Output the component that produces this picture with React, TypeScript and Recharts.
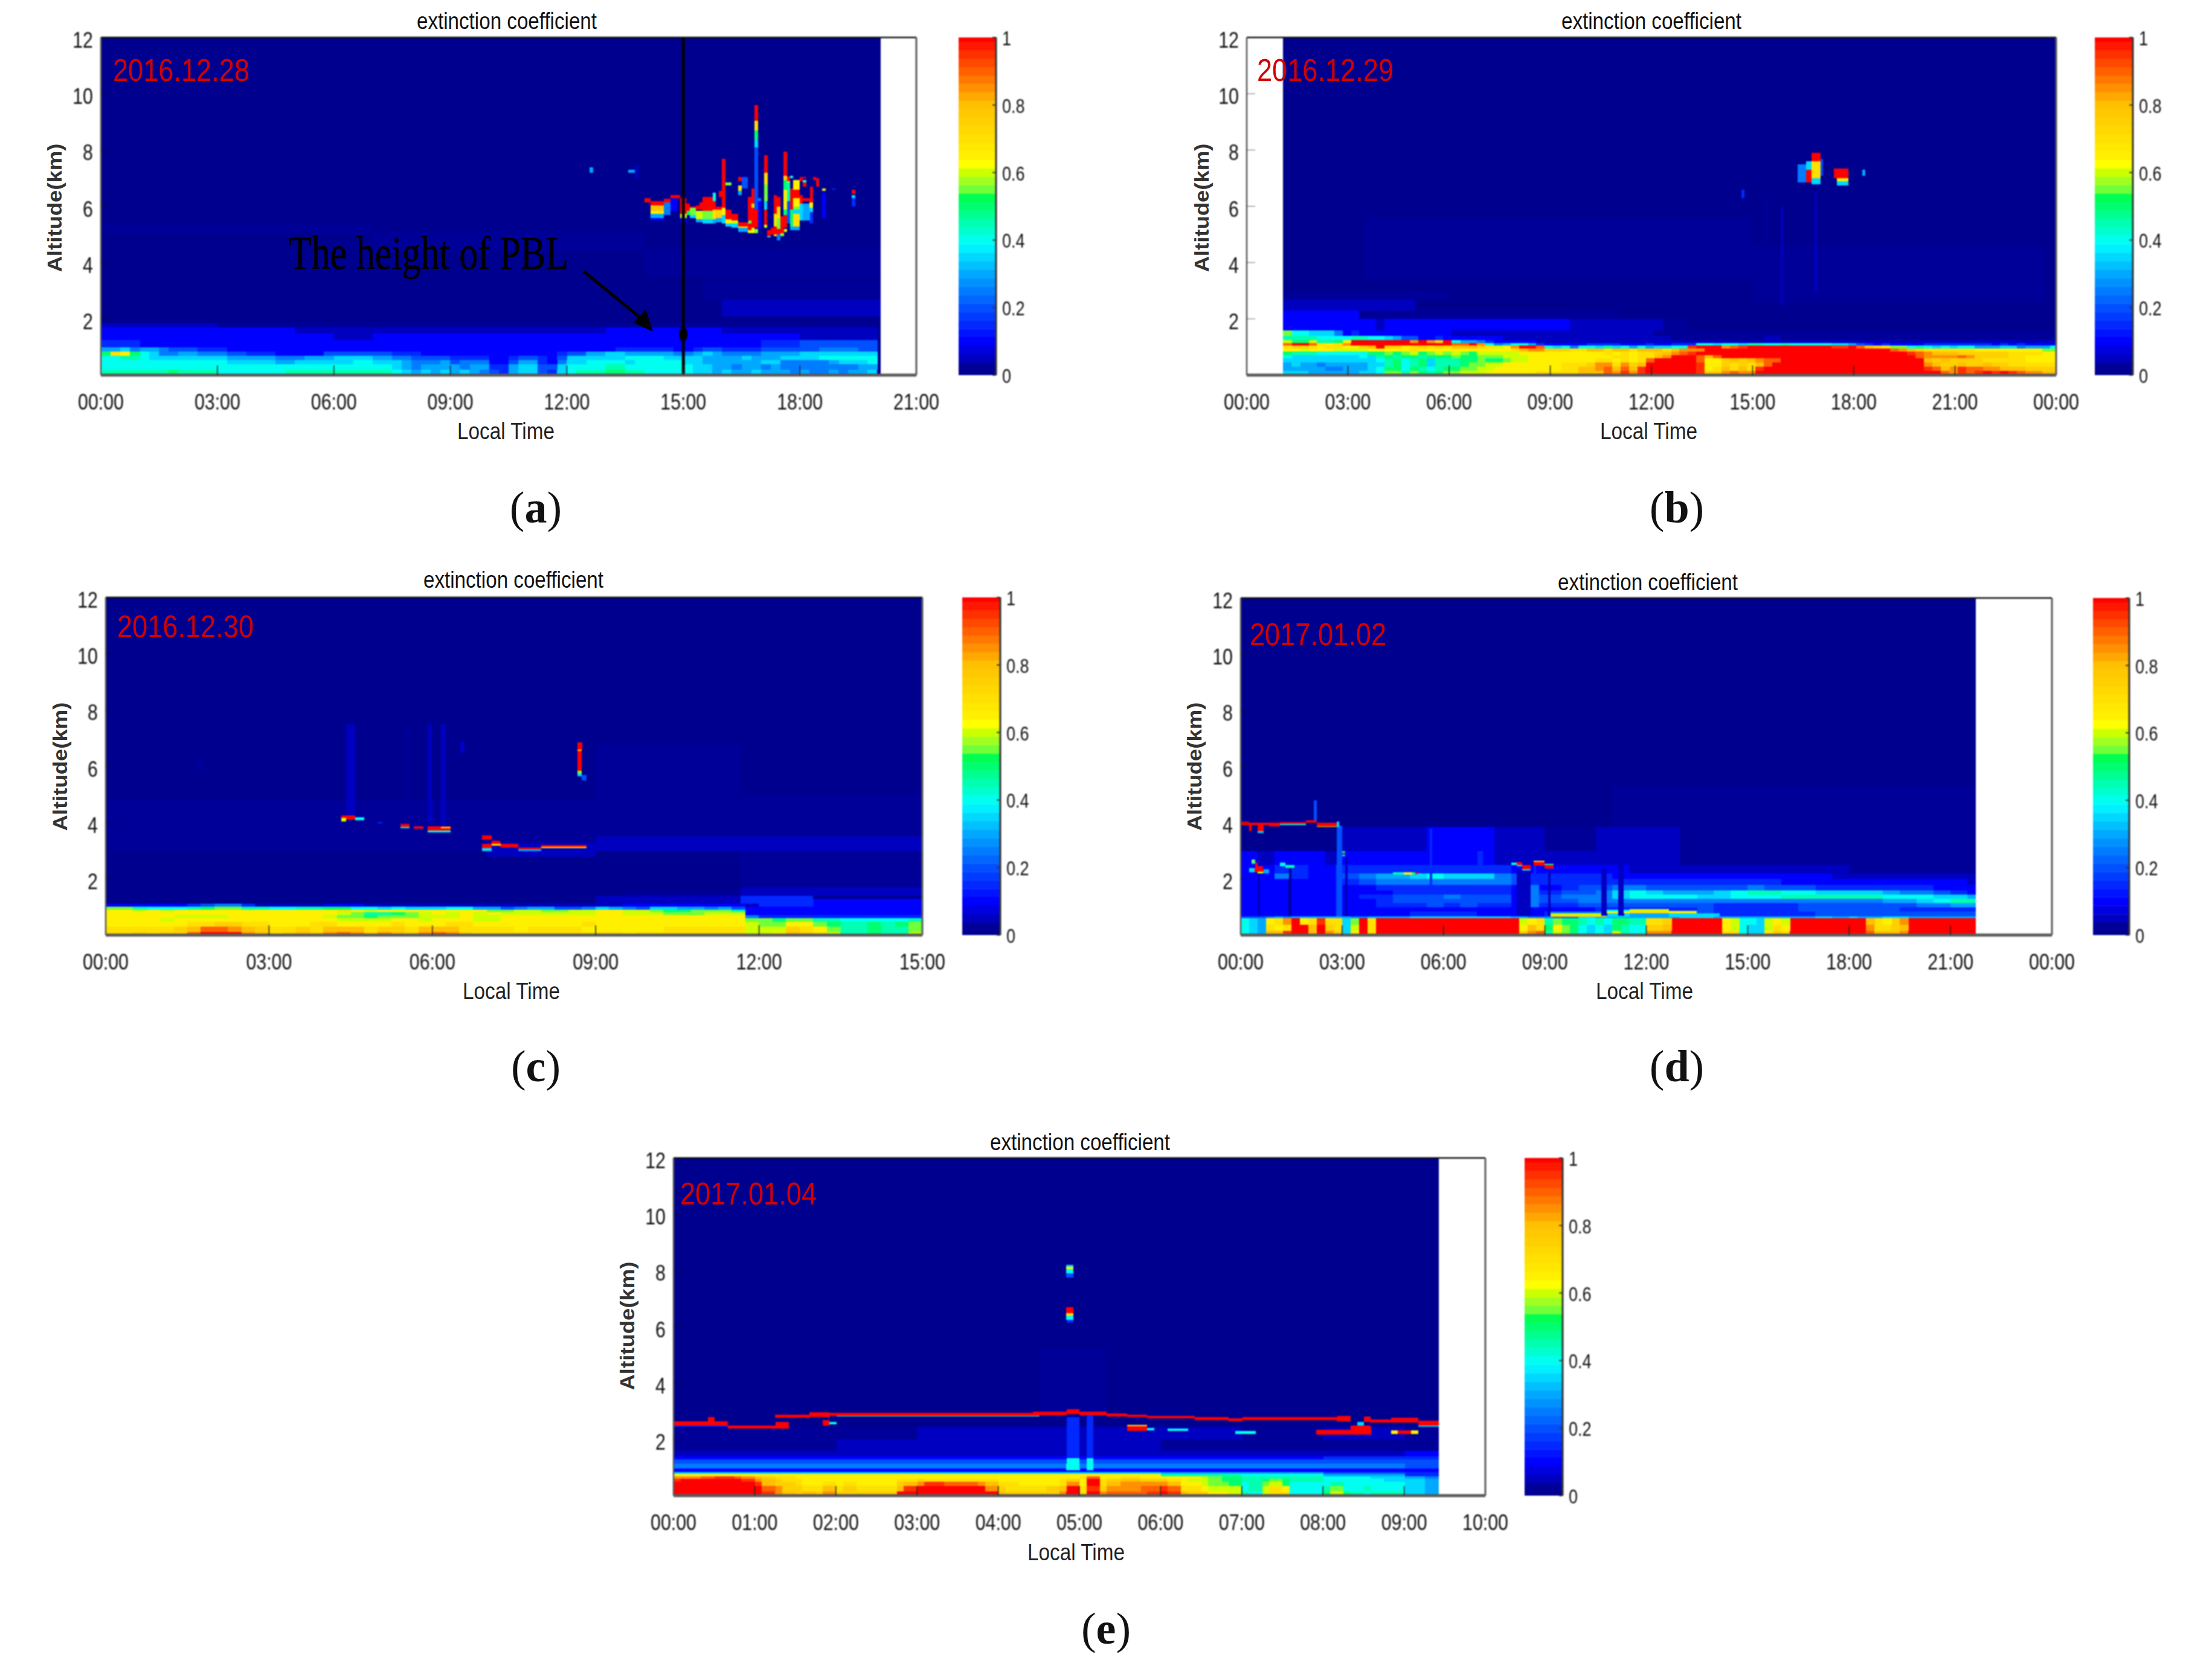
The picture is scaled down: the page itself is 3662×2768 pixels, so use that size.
import { BarChart, Bar, XAxis, YAxis, ReferenceLine, ReferenceDot } from "recharts";

// colour table, index = value * 40 (matches the colorbar)
const palette = [
  "#00008f", "#000099", "#0000c0", "#0000e0", "#0000ff", "#0014ff", "#0028ff", "#003cff", "#0050ff",
  "#0066ff", "#007cff", "#0092ff", "#00a8ff", "#00c0ff", "#00d8ff", "#00f0ff", "#00fff0", "#00ffd0",
  "#00ffb0", "#00ff90", "#00ff70", "#00ff50", "#70ff38", "#a0ff20", "#ccff00", "#ffff00", "#fff000",
  "#ffe800", "#ffe000", "#ffd800", "#ffd000", "#ffc800", "#ffc000", "#ffa800", "#ff9000", "#ff7800",
  "#ff6000", "#ff4800", "#ff3000", "#ff1800", "#ff0000",
];

// '0' background, '.' 0.025, a..t = 0.05..1.00
const levelOf = (ch: string) => {
  if (ch === "0") return 0;
  if (ch === ".") return 1;
  return (ch.charCodeAt(0) - 96) * 2;
};

const altitudeTicks = [2, 4, 6, 8, 10, 12];
const colorbarTicks = [0, 0.2, 0.4, 0.6, 0.8, 1];

type Row = [number, number, number, string];
type Patch = [number, number, number, number, string];

// ---------- (a) 2016.12.28 ----------
const ticksA = [0, 3, 6, 9, 12, 15, 18, 21];
const rowsA: Row[] = [
  [0, 0.2, 0.25, "iiii iiij iiii hhhh hhhi iiii iiii iihg fgfg fgfe dcfg gdcg hiii jjii hhhh hggf gffg fffe feef effg"],
  [0.2, 0.4, 0.25, "hhhh hhhh hhhh hhhh hhhh hhhh hhhh hhgf efff feff ccfg gddg hhhh iihh hhhh hggf feff efee eeee eeff"],
  [0.4, 0.55, 0.25, "hhhh hhhh hhhh hggg ggff gggg gghh gggf eeef deee bbdf fcbe gghh hhgh hhhh ggff ffff ggee eeef gggh"],
  [0.55, 0.7, 0.25, "hhii hggg gggg gfff ffee efff gggg ffee dddd cccc bbcd dcbd gggg gghh hhgg ggff ffgf ffgg gghh hhhh"],
  [0.7, 0.85, 0.25, "jnmj hgee ffee eddc ccbb bbbd dddd ddcc cbbb bbbb bbbb bbbc ddff ggff fffe efgf eeee ffff gggg gggg"],
  [0.85, 1.0, 0.25, "ffge ffed ddcc cbbb bbbb bbbb bbbb bbbb bbbb bbbb bbbb bbbb bbbb bccc cccb bcdd cccc dddd ddee eedd"],
  [1.0, 1.25, 1, "cbbbbbbbbbbbbbbbbcdd"],
  [1.25, 1.5, 1, "bbbbbbabbbbbbbbbbbaa"],
  [1.5, 1.7, 1, "bbbbbaaaaaaaabbbaaaa"],
  [1.7, 1.85, 1, "aaa................."],
];
const cloudsA: Patch[] = [
  [16, 20.13, 2.1, 2.7, "a"], [15.5, 20.13, 2.7, 3.4, "."], [14, 20.13, 3.5, 4.5, "."], [0, 7, 5.05, 5.35, "."], [7, 14, 4.4, 5.1, "."],
  [12.55, 12.65, 7.2, 7.4, "f"], [13.58, 13.72, 7.2, 7.3, "f"], [13.72, 13.8, 7.0, 7.45, "a"],
  [14.0, 14.15, 6.15, 6.3, "t"], [14.15, 14.47, 6.05, 6.2, "t"], [14.15, 14.47, 5.85, 6.05, "p"], [14.15, 14.47, 5.75, 5.85, "m"],
  [14.15, 14.47, 5.6, 5.75, "f"], [14.15, 14.47, 5.5, 5.6, "b"], [14.47, 14.63, 6.15, 6.27, "t"], [14.47, 14.63, 5.7, 6.15, "e"],
  [14.63, 14.81, 6.3, 6.4, "t"], [14.63, 14.81, 5.85, 6.3, "b"], [14.8, 14.89, 6.3, 6.4, "t"],
  [14.89, 15.1, 5.75, 6.3, "t"], [14.89, 15.1, 5.6, 5.75, "l"], [14.9, 15.1, 5.45, 5.6, "b"],
  [15.07, 15.14, 5.85, 6.1, "t"], [15.07, 15.14, 5.7, 5.85, "j"], [15.14, 15.3, 5.95, 6.0, "t"], [15.14, 15.3, 5.7, 5.95, "k"], [15.14, 15.3, 5.6, 5.7, "g"],
  [15.3, 15.48, 5.9, 6.05, "t"], [15.38, 15.48, 6.05, 6.15, "t"], [15.3, 15.48, 5.55, 5.85, "l"], [15.3, 15.48, 5.45, 5.55, "f"],
  [15.48, 15.71, 5.85, 6.35, "t"], [15.48, 15.71, 5.55, 5.85, "k"], [15.48, 15.71, 5.4, 5.55, "g"],
  [15.71, 15.82, 5.9, 6.2, "t"], [15.71, 15.82, 6.2, 6.5, "h"], [15.71, 15.82, 5.55, 5.9, "n"], [15.71, 15.82, 5.4, 5.55, "f"],
  [15.82, 15.97, 5.6, 5.9, "o"], [15.82, 15.97, 5.9, 6.0, "t"], [15.88, 15.97, 6.35, 6.55, "t"], [15.82, 15.97, 5.45, 5.6, "f"],
  [16.04, 16.12, 5.95, 7.7, "t"], [16.04, 16.12, 5.7, 5.95, "m"], [16.04, 16.12, 5.4, 5.7, "g"],
  [16.12, 16.22, 5.55, 5.9, "t"], [16.12, 16.22, 5.4, 5.55, "m"], [16.12, 16.22, 5.3, 5.4, "g"], [16.12, 16.22, 6.75, 6.85, "k"],
  [16.22, 16.38, 5.5, 5.75, "t"], [16.22, 16.38, 5.4, 5.5, "l"], [16.22, 16.38, 5.25, 5.4, "g"],
  [16.38, 16.45, 5.4, 5.55, "t"], [16.38, 16.45, 5.3, 5.4, "m"], [16.38, 16.45, 5.15, 5.3, "g"],
  [16.45, 16.63, 5.3, 5.45, "t"], [16.45, 16.63, 5.25, 5.3, "m"], [16.45, 16.63, 5.1, 5.25, "f"],
  [16.45, 16.53, 6.9, 7.05, "t"], [16.45, 16.53, 6.55, 6.75, "n"], [16.45, 16.53, 6.4, 6.55, "f"], [16.53, 16.63, 6.65, 7.05, "d"],
  [16.63, 16.7, 5.1, 5.3, "r"], [16.63, 16.7, 4.9, 5.1, "f"],
  [16.7, 16.79, 5.15, 6.35, "t"], [16.7, 16.79, 5.05, 5.15, "l"], [16.7, 16.79, 5.4, 5.5, "k"],
  [16.79, 16.87, 5.25, 6.65, "t"], [16.79, 16.87, 5.95, 6.1, "o"], [16.79, 16.87, 5.05, 5.25, "m"],
  [16.87, 16.94, 9.05, 9.6, "t"], [16.87, 16.94, 8.7, 9.05, "n"], [16.87, 16.94, 8.4, 8.7, "j"], [16.87, 16.94, 8.1, 8.4, "g"],
  [16.87, 16.94, 5.9, 8.1, "d"], [16.87, 16.94, 5.25, 5.9, "t"], [16.87, 16.94, 5.05, 5.2, "k"],
  [16.94, 17.03, 5.2, 6.2, "b"], [16.94, 17.03, 6.2, 6.3, "e"], [17.05, 17.12, 5.5, 5.9, "j"], [17.05, 17.12, 5.1, 5.5, "b"],
  [17.12, 17.2, 7.2, 7.83, "t"], [17.12, 17.2, 6.8, 7.2, "n"], [17.12, 17.2, 6.2, 6.8, "k"], [17.12, 17.2, 5.9, 6.2, "g"],
  [17.12, 17.2, 5.35, 5.9, "t"], [17.12, 17.2, 5.25, 5.35, "l"], [17.2, 17.28, 4.95, 5.17, "t"], [17.2, 17.28, 4.9, 4.95, "g"],
  [17.28, 17.35, 5.0, 5.25, "t"], [17.35, 17.44, 5.75, 6.4, "t"], [17.35, 17.44, 5.3, 5.75, "n"], [17.35, 17.44, 5.0, 5.3, "t"], [17.35, 17.44, 4.95, 5.0, "n"],
  [17.44, 17.53, 6.0, 6.35, "t"], [17.44, 17.53, 5.6, 6.0, "n"], [17.44, 17.53, 5.2, 5.6, "k"], [17.44, 17.53, 5.0, 5.2, "t"], [17.44, 17.53, 4.8, 5.0, "e"],
  [17.54, 17.61, 5.05, 5.65, "t"], [17.54, 17.61, 4.95, 5.05, "k"],
  [17.61, 17.69, 7.1, 7.95, "t"], [17.61, 17.69, 6.95, 7.1, "o"], [17.61, 17.69, 6.6, 6.95, "j"], [17.61, 17.69, 5.9, 6.6, "m"],
  [17.61, 17.69, 5.7, 5.9, "j"], [17.61, 17.69, 5.25, 5.7, "t"], [17.61, 17.69, 5.1, 5.2, "l"],
  [17.69, 17.79, 6.9, 7.08, "t"], [17.69, 17.79, 6.85, 6.9, "m"], [17.69, 17.79, 6.2, 6.85, "i"], [17.69, 17.79, 5.4, 6.2, "d"],
  [17.79, 17.87, 7.0, 7.1, "h"], [17.79, 17.87, 5.9, 6.65, "t"], [17.79, 17.87, 5.3, 5.9, "j"], [17.79, 17.87, 5.15, 5.3, "f"],
  [17.87, 17.97, 6.6, 6.95, "m"], [17.87, 17.97, 6.3, 6.6, "t"], [17.87, 17.97, 6.0, 6.3, "m"], [17.87, 17.97, 5.9, 6.0, "k"], [17.87, 17.97, 5.75, 5.9, "g"], [17.87, 17.97, 5.3, 5.75, "n"], [17.87, 17.97, 5.15, 5.3, "f"],
  [17.97, 18.05, 6.9, 7.05, "t"], [17.97, 18.05, 6.1, 6.4, "t"], [17.97, 18.05, 5.5, 6.1, "g"], [18.05, 18.23, 6.2, 6.3, "t"], [18.05, 18.23, 5.5, 6.1, "f"],
  [18.08, 18.2, 7.0, 7.05, "t"], [18.08, 18.2, 6.85, 6.95, "h"], [18.08, 18.2, 6.7, 6.85, "t"],
  [18.23, 18.35, 6.15, 6.7, "t"], [18.23, 18.35, 5.95, 6.15, "m"], [18.23, 18.35, 5.8, 5.95, "g"], [18.23, 18.35, 5.4, 5.8, "c"],
  [18.35, 18.43, 6.95, 7.05, "t"], [18.43, 18.51, 6.7, 7.0, "t"], [18.6, 18.69, 6.55, 6.65, "n"], [18.6, 18.69, 5.6, 6.5, "b"],
  [18.85, 18.95, 6.6, 6.65, "c"], [19.33, 19.43, 6.45, 6.6, "t"], [19.33, 19.43, 6.3, 6.4, "g"], [19.33, 19.43, 6.0, 6.3, "c"],
];

// ---------- (b) 2016.12.29 ----------
const ticksB = [0, 3, 6, 9, 12, 15, 18, 21, 24];
const rowsB: Row[] = [
  [0, 0.15, 0.25, "gggf ffff fggh kkik jijk klll mmmm mmnn nnnp pprq sqst tttt tsoo qrqq tttt tttt tttt tttt tttt ttrq srst stsr qqpp"],
  [0.15, 0.3, 0.25, "ffff feef ffgh jjhj ihij jkkl lmmm mmmm mnnp pqrp rpst tttt tsmn pnpn sttt tttt tttt tttt tttt srpq srrq qppp oooo"],
  [0.3, 0.45, 0.25, "fgff efff ffgg ijhi jgii ijkk llmm mmmm mnnn oqqn qopt tttt tsmm onon prtt tttt tttt tttt tttt qpoo poop oonn nnnn"],
  [0.45, 0.6, 0.25, "gggg gggg gggh ijhi jgii ijjk jjkl lmmm mmmm mnnm nmnr tttt trmm opop qrrt tttt tttt tttt tttt popo ooon nnnn mmmm"],
  [0.6, 0.72, 0.25, "hggg gggg ghgi jijj ijjj kjjk kkll lmmm mmmm mmmn nmnn pqtt trpr tttt tttt tttt tttt tttt tttr qqqq rqoo oonn mmmm"],
  [0.72, 0.85, 0.25, "jiii hhhh hhjj kjkl jklk lkjl llll mmmm mmmm mmnm nmnn opqr sttt tttt tttt tttt tttt tttt ttsr qppp oooo oonn nnmm"],
  [0.85, 0.95, 0.25, "mmlm mmll llmm mmmn mmmm mmmm mmmn pqqo oonn ppnp pnpp pnpq qqtt tttt tttt tttt tttt tttt rqpo nnnn nnmm mmmm mmkk"],
  [0.95, 1.05, 0.25, "noon mnnm mopt oomn onon pppo nlmq ttrh gheh hgig hfhf gghh sttt qrst tttt tttt tsst rpon kkhi hghg hhff fgge fffh"],
  [1.05, 1.15, 0.25, "rttr nmnq tttt tttt tttt rrtq hefh hfcb bbbb cccc bbbc bbcc chhg hhgi ihhi hhhh hggf dcbc bbbb cccc cccc bcbc bbbb"],
  [1.15, 1.25, 0.25, "ljjl iijm tttt tttq tqot hffe cbbb bbaa aaaa aaaa aaaa aaaa aaaa aaaa aaaa aaaa aaaa aaaa aaaa aaaa aaaa aaaa aaaa"],
  [1.25, 1.4, 0.25, "iiii hhhh iihh gfdd bbcb bbbb bbaa aaaa aaaa aaaa aaaa aa.. .... .... .aa. .... .... .... .... .... .... .... ...."],
  [1.4, 1.6, 0.25, "khhg ggeb cbbb bbbb bbbb aaaa aaaa aaaa aaaa aaaa aaaa .... .... .... .... .... .... .... .... .... .... .... ...."],
  [1.6, 2.0, 0.25, "bbbb bbbb bbba bbbb bbbb bbbb bbbb bbbb bbaa aaaa aaaa a..."],
];
const cloudsB: Patch[] = [
  [1, 3.3, 2.0, 2.3, "b"], [1, 5, 2.3, 2.7, "a"], [1, 6, 2.7, 3, "."], [3.5, 15, 3.4, 5.6, "."], [15, 23.7, 2.6, 4.6, "."], [3.3, 11, 2.0, 2.3, "."],
  [15.82, 15.92, 2.5, 6, "a"], [16.8, 16.95, 3, 6.5, "a"], [14.65, 14.72, 6.3, 6.6, "c"], [15.3, 15.4, 3.6, 6.3, "."],
  [16.35, 16.55, 6.85, 7.5, "e"], [16.55, 16.72, 6.85, 7.3, "t"], [16.55, 16.72, 7.3, 7.6, "g"], [16.72, 16.98, 7.0, 7.6, "n"], [16.72, 16.98, 7.6, 7.9, "t"], [16.72, 16.98, 6.8, 7.0, "g"], [16.98, 17.1, 7.1, 7.7, "d"],
  [17.42, 17.8, 7.0, 7.35, "t"], [17.5, 17.8, 6.9, 7.0, "m"], [17.5, 17.8, 6.75, 6.9, "g"], [18.22, 18.32, 7.1, 7.3, "f"],
];

// ---------- (c) 2016.12.30 ----------
const ticksC = [0, 3, 6, 9, 12, 15];
const rowsC: Row[] = [
  [0, 0.12, 0.25, "nnon oort ttqp nopo qrqo qpoq rqon nnnn nnnn nnmn nnnn nnnl lmpo nlii jiil"],
  [0.12, 0.3, 0.25, "nnnn nopr rqpo nnon pppn oonp ppnn nnmn nnnm mmmm mnnn nnnl llon mkii jiik"],
  [0.3, 0.48, 0.25, "mmmm mmnn oonn mmmn nmmm mnmm mnnm mmmm mmmn mmmm mmmm mmml kkmm kjii jijk"],
  [0.48, 0.62, 0.25, "mmmm lmmm mmmm mmmm mlll lmml mmml lmmm mmmm mmmm mmmm mmmk kjkk iihh hhhi"],
  [0.62, 0.72, 0.25, "mmmm mlll lmmm mmmm lkkj kkkl llml lmmm mmmm mmmm mmmm mmme cccc cccc cccc"],
  [0.72, 0.82, 0.25, "mmmm mmmm mmmm mmmm mlki ijkl mlml mlll llll mmll lkkk lllb bbbb bbbb bbbb"],
  [0.82, 0.92, 0.25, "mmlm lmmm mmmm mmmm mnml mmmm mmmm kkll kkll mmll kjjk kkib bbbb bbbb bbbb"],
  [0.92, 1.02, 0.25, "kkih hhij kkii hhii jjhh ghgg ghhf fdef fdde gfed ggff efdb bbbb bbbb bbbb"],
  [1.02, 1.12, 0.25, "bbbb bbcd eeca aaaa bbba aaaa aaaa aaaa aaaa aabb bbbb bbba cccc bbbb bbbb"],
];
const cloudsC: Patch[] = [
  [0, 9, 3, 4.8, "."], [9, 15, 3.5, 5, "."], [9, 11.7, 5, 6.8, "."], [9, 15, 3, 3.5, "a"], [7, 9, 2.8, 3.3, "a"],
  [9, 11.7, 1.12, 1.4, "a"], [9.5, 11.7, 1.4, 1.6, "."], [11.7, 13, 1.12, 1.4, "c"], [13, 15, 1.12, 1.3, "b"], [11.7, 15, 1.4, 1.7, "a"], [11.7, 15, 1.7, 3, "."],
  [4.45, 4.55, 4.2, 7.5, "a"], [5.48, 5.55, 3.9, 7.4, "."], [5.92, 6.02, 4, 7.5, "a"], [6.15, 6.25, 3.8, 7.5, "a"], [6.05, 6.12, 7.5, 8.9, "."], [6.47, 6.57, 6.5, 6.9, "a"], [1.65, 1.8, 5.8, 6.2, "."],
  [4.33, 4.45, 4.05, 4.18, "l"], [4.33, 4.45, 4.18, 4.25, "t"], [4.45, 4.58, 4.1, 4.25, "t"], [4.58, 4.78, 4.08, 4.2, "h"], [5.0, 5.08, 3.98, 4.03, "c"],
  [5.45, 5.58, 3.85, 3.95, "t"], [5.45, 5.58, 3.8, 3.85, "h"], [5.68, 5.83, 3.78, 3.88, "t"], [5.9, 6.35, 3.72, 3.87, "t"], [6.2, 6.35, 3.8, 3.85, "m"], [5.9, 6.35, 3.65, 3.72, "h"],
  [6.92, 7.08, 3.4, 3.55, "t"], [6.92, 7.08, 3.1, 3.25, "t"], [6.92, 7.08, 3.0, 3.1, "g"], [7.05, 7.23, 3.25, 3.35, "t"], [7.05, 7.23, 3.18, 3.25, "n"],
  [7.23, 7.62, 3.12, 3.25, "t"], [7.62, 7.97, 3.05, 3.12, "t"], [7.62, 7.97, 3.0, 3.05, "f"], [7.97, 8.87, 3.13, 3.2, "t"], [7.97, 8.87, 3.1, 3.15, "m"],
  [8.64, 8.76, 5.85, 6.85, "t"], [8.64, 8.76, 6.55, 6.6, "o"], [8.64, 8.76, 5.75, 5.85, "k"], [8.64, 8.76, 5.65, 5.75, "g"], [8.76, 8.85, 5.5, 5.7, "d"],
];

// ---------- (d) 2017.01.02 ----------
const ticksD = [0, 3, 6, 9, 12, 15, 18, 21, 24];
const rowsD: Row[] = [
  [0, 0.15, 0.25, "hgfp pstt ptqo gmtn tttt tttt tttt tttt toqr ilkj hghg lihh qqqt tttt tnnh ggmo nttt tttt ttrp ppqt tttt tttt"],
  [0.15, 0.38, 0.25, "hgfn mntt pton gltn tttt tttt tttt tttt tmpn jmkj hghg jihh oopt tttt tmlh ggln mttt tttt ttqn nopt tttt tttt"],
  [0.38, 0.62, 0.25, "hgfm nqtm nsnn gktn tttt tttt tttt tttt tlmn ikjj ihih jjii nnot tttt tmlh hglm lttt tttt ttpn moqt tttt tttt"],
  [0.62, 0.68, 0.25, "ddde feff ffff feef ffff gggg gggg gggg ffee eddd ggff ffff ffff gggg ffff ffff ffff ggff gfff gggf ffff ffff"],
  [0.68, 0.85, 0.5, "bb bb bb bb bb cc cc bb bb cc dd ee ee dd cc cc cc dd dd dd dd dd"],
  [0.85, 1.0, 0.5, "bb bb bb bb bb bb bb bb bb bb bc cc cc cd cc cc cd dd dd dc cc cc"],
  [1.0, 1.15, 0.5, "bb bb bb bb cc cd cd cc bc cc dd dd dd dd cc cc cd dd dd dd ee ff"],
  [1.15, 1.3, 0.5, "bb bb bb bb cd dd dd dd bd dd ee ee ee ee ee ee ee ee ee ff gh ii"],
  [1.3, 1.45, 0.5, "bb bb bb bc cd dd ed dd bd de ee gh hh hg gh hh ii ii ii hh hg gf"],
  [1.45, 1.6, 0.5, "bb bb bb bb bc cc cc cc bc cd de gh gf ff gh ii hh gg gg fe ed cb"],
  [1.6, 1.8, 0.5, "bb bb bb bb cc cc cc cc bb bc dd ee dd dd dd ed dd cc cc cc cb bb"],
  [1.8, 2.0, 0.5, "bb bb bb cd ee ee ee ee dc cc cc cc cc cc cc cc bb bb bb bb bb ba"],
  [2.0, 2.2, 0.5, "bb ec bb de ff gh gg ge dc cc cc bb bb bb bb bb bb ba aa aa aa aa"],
  [2.2, 2.5, 0.5, "bb cc bb cc cc cc cc cc bb bb bb ba aa aa aa aa aa aa .. .. .. .."],
  [2.5, 3, 0.5, "ba bb ba bb bb bb bb ba aa aa aa aa aa .. .. .. .. .. .. .. .. .."],
  [3, 3.85, 0.5, "__ __ __ aa aa ab bb ba aa .. .a aa aa .. .. .. .. .. .. .. .. .."],
];
const cloudsD: Patch[] = [
  [11, 21.77, 3.85, 5.3, "."],
  [9.2, 10.8, 0.66, 0.72, "o"], [9.2, 10.8, 0.72, 0.78, "l"], [9.2, 10.8, 0.78, 0.85, "e"], [10.8, 11.5, 0.65, 0.78, "g"], [10.8, 11.5, 0.78, 0.85, "m"], [10.8, 11.5, 0.85, 0.92, "h"],
  [11.5, 12.7, 0.65, 0.78, "f"], [11.5, 12.7, 0.78, 0.86, "n"], [11.5, 12.7, 0.86, 0.93, "l"], [12.7, 13.5, 0.66, 0.78, "g"], [12.7, 13.5, 0.78, 0.86, "m"], [13.5, 14.2, 0.68, 0.78, "g"],
  [1.43, 1.5, 0.68, 2.4, "."], [0.53, 0.6, 0.68, 2.2, "a"], [2.8, 3.0, 0.68, 3.9, "d"], [3.05, 3.15, 0.68, 2.8, "a"],
  [8.15, 8.55, 0.7, 2.3, "a"], [9.1, 9.2, 0.7, 2.3, "a"], [8.55, 8.8, 1.0, 1.8, "e"], [8.65, 8.75, 1.8, 2.5, "c"],
  [5.6, 5.7, 1.5, 3.8, "c"], [7.0, 7.2, 2.2, 3.0, "c"], [10.7, 10.8, 0.7, 2.4, "a"], [11.2, 11.3, 0.7, 3.0, "a"],
  [0, 0.23, 3.97, 4.05, "t"], [0.23, 0.35, 3.7, 3.95, "t"], [0, 0.8, 3.92, 4.0, "t"], [0.53, 0.63, 3.7, 3.95, "t"], [0.53, 0.63, 3.65, 3.7, "g"],
  [0.8, 1.2, 3.88, 4.0, "t"], [1.2, 1.88, 3.97, 4.03, "t"], [1.2, 1.88, 3.93, 3.97, "h"], [1.88, 2.24, 4.0, 4.1, "t"], [2.24, 2.8, 3.87, 4.0, "t"], [2.24, 2.8, 3.85, 3.87, "l"], [2.8, 2.88, 3.85, 4.05, "g"],
  [2.15, 2.22, 4.1, 4.8, "d"], [3.0, 3.08, 2.88, 2.92, "t"], [3.0, 3.08, 2.93, 3.0, "j"], [3.0, 3.08, 2.8, 2.88, "f"],
  [0.35, 0.45, 2.6, 2.7, "k"], [0.35, 0.45, 2.55, 2.6, "h"], [0.45, 0.53, 2.25, 2.6, "t"], [0.53, 0.65, 2.2, 2.47, "t"], [0.53, 0.65, 2.2, 2.26, "l"], [0.23, 0.4, 2.25, 2.4, "g"], [0.65, 0.8, 2.2, 2.35, "f"],
  [1.2, 1.3, 2.45, 2.6, "h"], [1.3, 1.37, 2.4, 2.55, "t"], [1.37, 1.6, 2.4, 2.5, "i"],
  [4.54, 4.82, 2.15, 2.25, "i"], [4.84, 5.05, 2.15, 2.25, "m"], [5.15, 5.25, 2.17, 2.25, "t"], [5.05, 5.15, 2.18, 2.24, "j"], [5.25, 5.35, 2.15, 2.2, "h"],
  [8.0, 8.13, 2.5, 2.6, "h"], [8.15, 8.35, 2.5, 2.62, "t"], [8.15, 8.3, 2.45, 2.5, "h"], [8.3, 8.6, 2.35, 2.5, "t"], [8.3, 8.6, 2.3, 2.35, "h"],
  [8.7, 9, 2.48, 2.62, "t"], [8.7, 9, 2.62, 2.66, "n"], [9, 9.22, 2.37, 2.5, "t"], [9, 9.22, 2.5, 2.54, "i"],
];

// ---------- (e) 2017.01.04 ----------
const ticksE = [0, 1, 2, 3, 4, 5, 6, 7, 8, 9, 10];
const rowsE: Row[] = [
  [0, 0.15, 0.125, "tttttttt tsqpopoq oooooott tttttttt poooooqt ntqrrrrs tspoomml ihlnnhhh jljihiii ggffeeff"],
  [0.15, 0.35, 0.125, "tttttttt trqoonnp nonnnnps tttttttq onnnnopt nsoqqqrr srnnmlll hilnmhhh ikhhihhh ggffeeff"],
  [0.35, 0.5, 0.125, "tttttttt spoonmmn mnmmmmop qssrrrqp nnmmmmnq mtnpqqqq qpmmlkkj hikljhhh hihhhhhh ggffffff"],
  [0.5, 0.62, 0.125, "stttttts qponnmmm mmmmmmnn onnnnnnn mmmmmmno mtnoppoo onmllkjj iijkjiii hhhhhhgg ggffffff"],
  [0.62, 0.7, 0.125, "qqqrssrq ponnmmmm mmmmmmmm mmmmmmmm mmmmmmmm nrmmnnmm mmmmlkjj iiiiiiii hhhhhggg ffeedddd"],
  [0.7, 0.78, 1, "mmmmmmihfc"],
  [0.78, 0.85, 1, "ggggggffdc"],
  [0.85, 0.97, 1, "bbbbbbbbbb"],
  [0.97, 1.15, 1, "eeeeeeeeed"],
  [1.15, 1.3, 1, "dddddddddd"],
  [1.3, 1.4, 1, "bbbbbbbbcc"],
  [1.4, 1.6, 1, "aaaaaaaaab"],
  [1.6, 2.0, 1, "..aaaa...."],
  [2.0, 2.45, 1, "...aaaa.a."],
];
const cloudsE: Patch[] = [
  [4.87, 5.03, 0.9, 1.35, "h"], [4.87, 5.03, 1.35, 2.8, "c"], [5.1, 5.2, 0.9, 1.35, "h"], [5.1, 5.2, 1.35, 3, "c"], [4.5, 5.3, 2.95, 5.2, "."],
  [0, 0.7, 2.5, 2.65, "t"], [0, 0.7, 2.45, 2.5, "c"], [0.43, 0.5, 2.65, 2.8, "t"], [0.7, 1.27, 2.4, 2.5, "t"], [1.27, 1.43, 2.4, 2.63, "t"], [1.27, 1.7, 2.78, 2.88, "t"], [1.7, 1.95, 2.8, 2.98, "t"],
  [1.95, 4.5, 2.85, 2.95, "t"], [2.0, 4.5, 2.82, 2.85, "h"], [4.4, 4.8, 2.87, 3.0, "t"], [4.8, 5.0, 2.9, 3.07, "t"], [5.0, 5.3, 2.87, 3.0, "t"], [5.3, 5.55, 2.82, 2.92, "t"], [5.55, 5.85, 2.8, 2.88, "t"],
  [5.85, 6.45, 2.75, 2.85, "t"], [6.45, 6.8, 2.7, 2.8, "t"], [6.8, 7.0, 2.65, 2.75, "t"], [7.0, 7.45, 2.7, 2.8, "t"], [7.45, 8.15, 2.7, 2.8, "t"], [8.2, 8.35, 2.65, 2.85, "t"],
  [8.47, 8.6, 2.63, 2.83, "t"], [8.6, 8.8, 2.6, 2.72, "t"], [8.8, 9.13, 2.6, 2.78, "t"], [9.13, 9.2, 2.63, 2.85, "t"], [9.2, 9.47, 2.5, 2.68, "t"], [9.2, 9.47, 2.45, 2.5, "g"],
  [1.87, 1.95, 2.5, 2.7, "t"], [1.95, 2.02, 2.55, 2.62, "h"], [5.62, 5.85, 2.3, 2.47, "t"], [5.62, 5.85, 2.47, 2.52, "m"], [5.85, 5.95, 2.33, 2.42, "h"],
  [6.1, 6.35, 2.3, 2.4, "h"], [6.22, 6.28, 2.3, 2.42, "t"], [6.95, 7.05, 2.2, 2.3, "h"], [7.1, 7.2, 2.2, 2.3, "h"],
  [7.9, 8.6, 2.17, 2.35, "t"], [8.3, 8.6, 2.35, 2.5, "t"], [8.45, 8.52, 2.5, 2.62, "g"], [8.8, 9.2, 2.2, 2.32, "m"], [8.9, 9.05, 2.2, 2.33, "t"],
  [4.87, 4.95, 8.15, 8.2, "g"], [4.87, 4.95, 8.05, 8.15, "m"], [4.87, 4.95, 7.9, 8.05, "h"], [4.87, 4.95, 7.75, 7.9, "d"],
  [4.87, 4.95, 6.5, 6.7, "t"], [4.87, 4.95, 6.4, 6.5, "n"], [4.87, 4.95, 6.25, 6.4, "h"], [4.87, 4.95, 6.15, 6.25, "c"],
];

const colsPerHour = 12;

// paint rows and patches onto a 10 m altitude raster and merge to stacks, one record per time column
function buildColumns(xMax: number, start: number, end: number, rows: Row[], clouds: Patch[]) {
  const parsed = rows.map(([a0, a1, step, s]) => ({ a0, a1, step, chars: s.replace(/ /g, "") }));
  const table: Record<string, number>[] = [];
  let maxSeg = 0;
  for (let c = 0; c < Math.round(xMax * colsPerHour); c++) {
    const t = (c + 0.5) / colsPerHour;
    const rec: Record<string, number> = { t };
    if (t >= start && t < end) {
      const bins = new Int8Array(1200);
      const paint = (a0: number, a1: number, lvl: number) => {
        bins.fill(lvl, Math.round(a0 * 100), Math.max(Math.round(a1 * 100), Math.round(a0 * 100) + 1));
      };
      for (const r of parsed) {
        const ch = r.chars[Math.floor((t - start) / r.step)];
        if (ch && ch !== "_") paint(r.a0, r.a1, levelOf(ch));
      }
      for (const [t0, t1, a0, a1, ch] of clouds) {
        if (t >= t0 && t < t1) paint(a0, a1, levelOf(ch));
      }
      let k = 0;
      let from = 0;
      for (let i = 1; i <= 1200; i++) {
        if (i === 1200 || bins[i] !== bins[from]) {
          rec[`s${k}`] = (i - from) / 100;
          rec[`v${k}`] = bins[from];
          k++;
          from = i;
        }
      }
      maxSeg = Math.max(maxSeg, k);
    }
    table.push(rec);
  }
  return { table, maxSeg };
}

const hhmm = (h: number) => `${String(h % 24).padStart(2, "0")}:00`;

// the figure's labels are squeezed horizontally
function SqueezedTick(p: any, opts: { anchor: string; size: number; dy: number; format?: (v: number) => string }) {
  const text = opts.format ? opts.format(p.payload.value) : String(p.payload.value);
  return (
    <text
      transform={`translate(${p.x} ${p.y + opts.dy}) scale(0.82 1)`}
      textAnchor={opts.anchor}
      fontSize={opts.size}
      fontFamily="'Liberation Sans', sans-serif"
      fill="#111"
    >
      {text}
    </text>
  );
}

// the source figure is a soft, upscaled bitmap
const softEdge = "blur(1.1px)";

interface PanelProps {
  plot: { x: number; y: number; w: number; h: number };
  bar: { x: number; w: number };
  xMax: number;
  extent: [number, number];
  ticks: number[];
  rows: Row[];
  clouds: Patch[];
  pbl?: boolean;
}

function Panel({ plot, bar, xMax, extent, ticks, rows, clouds, pbl }: PanelProps) {
  const { table, maxSeg } = buildColumns(xMax, extent[0], extent[1], rows, clouds);
  const segs = Array.from({ length: maxSeg }, (_, k) => k);
  const cellW = plot.w / table.length;
  return (
    <>
      <div style={{ position: "absolute", left: plot.x - 120, top: plot.y - 20, filter: softEdge }}>
        <BarChart
          width={plot.w + 180}
          height={plot.h + 100}
          data={table}
          margin={{ top: 19, right: 59, left: 0, bottom: 0 }}
          barSize={cellW}
          barGap={0}
        >
          {segs.map((k) => (
            <Bar
              key={k}
              dataKey={`s${k}`}
              stackId="h"
              isAnimationActive={false}
              shape={(p: any) =>
                p.height > 0 && p.payload[`v${k}`] !== undefined ? (
                  <rect
                    x={p.x + p.width / 2 - cellW / 2}
                    y={p.y}
                    width={cellW + 0.6}
                    height={p.height + 0.4}
                    fill={palette[p.payload[`v${k}`]]}
                    shapeRendering="crispEdges"
                  />
                ) : (
                  <g />
                )
              }
            />
          ))}
          <XAxis
            dataKey="t"
            type="number"
            domain={[0, xMax]}
            ticks={ticks}
            allowDataOverflow
            height={80}
            interval={0}
            tickSize={-16}
            tickMargin={60}
            tick={(p: any) => SqueezedTick(p, { anchor: "middle", size: 37, dy: 13, format: hhmm })}
            axisLine={{ stroke: "#5a5a5a", strokeWidth: 5 }}
            tickLine={{ stroke: "#222", strokeWidth: 1.5 }}
          />
          <XAxis
            xAxisId="top"
            orientation="top"
            type="number"
            domain={[0, xMax]}
            ticks={ticks}
            allowDataOverflow
            height={1}
            tick={false}
            tickSize={-12}
            axisLine={{ stroke: "#111", strokeWidth: 2.5 }}
            tickLine={{ stroke: "#222", strokeWidth: 1, strokeOpacity: 0.5 }}
          />
          <YAxis
            type="number"
            domain={[0, 12]}
            ticks={altitudeTicks}
            allowDataOverflow
            width={120}
            interval={0}
            tickSize={-14}
            tickMargin={27}
            tick={(p: any) => SqueezedTick(p, { anchor: "end", size: 37, dy: 17 })}
            axisLine={{ stroke: "#5a5a5a", strokeWidth: 2.5 }}
            tickLine={{ stroke: "#111", strokeWidth: 1, strokeOpacity: 0.6 }}
          />
          <YAxis
            yAxisId="right"
            orientation="right"
            type="number"
            domain={[0, 12]}
            ticks={altitudeTicks}
            allowDataOverflow
            width={1}
            tick={false}
            tickSize={-15}
            axisLine={{ stroke: "#5a5a5a", strokeWidth: 3 }}
            tickLine={{ stroke: "#666", strokeWidth: 3 }}
          />
          {pbl && <ReferenceLine x={15} stroke="#000" strokeWidth={5} />}
          {pbl && (
            <ReferenceDot
              x={15}
              y={1.45}
              r={8}
              shape={(p: any) => <ellipse cx={p.cx} cy={p.cy} rx={7} ry={12} fill="#000" />}
            />
          )}
        </BarChart>
      </div>
      <Colorbar x={bar.x} y={plot.y} w={bar.w} h={plot.h} />
    </>
  );
}

const colorBands = palette.map((_, i) => `l${i}`);
const colorRecord = [
  Object.fromEntries(colorBands.map((name, i) => [name, i === 0 || i === 40 ? 0.0125 : 0.025])),
];

function Colorbar({ x, y, w, h }: { x: number; y: number; w: number; h: number }) {
  return (
    <div style={{ position: "absolute", left: x, top: y - 20, filter: softEdge }}>
      <BarChart
        width={w + 80}
        height={h + 40}
        data={colorRecord}
        margin={{ top: 20, right: 0, left: 0, bottom: 20 }}
        barCategoryGap={0}
      >
        <XAxis dataKey={() => "c"} hide padding={{ left: 0, right: 0 }} />
        {colorBands.map((name, i) => (
          <Bar key={name} dataKey={name} stackId="c" fill={palette[i]} isAnimationActive={false} stroke={palette[i]} strokeWidth={0.5} />
        ))}
        <YAxis
          orientation="right"
          type="number"
          domain={[0, 1]}
          ticks={colorbarTicks}
          allowDataOverflow
          width={80}
          interval={0}
          tickSize={-6}
          tickMargin={16}
          tick={(p: any) => SqueezedTick(p, { anchor: "start", size: 33, dy: 13 })}
          axisLine={{ stroke: "#333", strokeWidth: 3 }}
          tickLine={{ stroke: "#333", strokeWidth: 2 }}
        />
      </BarChart>
    </div>
  );
}

function Label({ x, y, len, text, size, color = "#222" }: { x: number; y: number; len: number; text: string; size: number; color?: string }) {
  return (
    <text x={x} y={y} fontSize={size} fontFamily="'Liberation Sans', sans-serif" fill={color} textLength={len} lengthAdjust="spacingAndGlyphs">
      {text}
    </text>
  );
}

function YLabel({ x, y }: { x: number; y: number }) {
  return (
    <text
      transform={`translate(${x} ${y}) rotate(-90)`}
      textAnchor="middle"
      fontSize={34}
      fontWeight="bold"
      fontFamily="'Liberation Sans', sans-serif"
      fill="#333"
      textLength={213}
      lengthAdjust="spacingAndGlyphs"
    >
      Altitude(km)
    </text>
  );
}

function Caption({ x, y, letter }: { x: number; y: number; letter: string }) {
  return (
    <text x={x} y={y} textAnchor="middle" fontSize={74} fontFamily="'Liberation Serif', serif" fill="#111">
      (<tspan fontWeight="bold">{letter}</tspan>)
    </text>
  );
}

const titleSpots = [
  { x: 690, y: 48, lt: 757, ly: 727, dx: 187, dy: 134, date: "2016.12.28", ax: 102, ay: 344, cx: 887, cy: 865, c: "a" },
  { x: 2585, y: 48, lt: 2649, ly: 727, dx: 2081, dy: 134, date: "2016.12.29", ax: 2001, ay: 344, cx: 2776, cy: 865, c: "b" },
  { x: 701, y: 973, lt: 766, ly: 1654, dx: 194, dy: 1055, date: "2016.12.30", ax: 111, ay: 1269, cx: 887, cy: 1790, c: "c" },
  { x: 2579, y: 977, lt: 2642, ly: 1654, dx: 2069, dy: 1068, date: "2017.01.02", ax: 1989, ay: 1269, cx: 2776, cy: 1790, c: "d" },
  { x: 1639, y: 1904, lt: 1701, ly: 2583, dx: 1126, dy: 1994, date: "2017.01.04", ax: 1050, ay: 2195, cx: 1831, cy: 2721, c: "e" },
];

export default function App() {
  return (
    <div style={{ position: "absolute", left: 0, top: 0, width: 3662, height: 2768, background: "#fff", overflow: "hidden" }}>
      <Panel plot={{ x: 167, y: 62, w: 1350, h: 559 }} bar={{ x: 1587, w: 62 }} xMax={21} extent={[0, 20.12]} ticks={ticksA} rows={rowsA} clouds={cloudsA} pbl />
      <Panel plot={{ x: 2064, y: 62, w: 1340, h: 559 }} bar={{ x: 3468, w: 63 }} xMax={24} extent={[1.064, 24]} ticks={ticksB} rows={rowsB} clouds={cloudsB} />
      <Panel plot={{ x: 175, y: 989, w: 1352, h: 559 }} bar={{ x: 1593, w: 63 }} xMax={15} extent={[0, 15]} ticks={ticksC} rows={rowsC} clouds={cloudsC} />
      <Panel plot={{ x: 2054, y: 990, w: 1343, h: 558 }} bar={{ x: 3465, w: 60 }} xMax={24} extent={[0, 21.77]} ticks={ticksD} rows={rowsD} clouds={cloudsD} />
      <Panel plot={{ x: 1115, y: 1917, w: 1344, h: 559 }} bar={{ x: 2524, w: 63 }} xMax={10} extent={[0, 9.445]} ticks={ticksE} rows={rowsE} clouds={cloudsE} />
      <svg width={3662} height={2768} style={{ position: "absolute", left: 0, top: 0, pointerEvents: "none" }}>
        {titleSpots.map((s) => (
          <g key={s.c}>
            <Label x={s.x} y={s.y} len={298} text="extinction coefficient" size={38} color="#111" />
            <Label x={s.lt} y={s.ly} len={161} text="Local Time" size={38} />
            <Label x={s.dx} y={s.dy} len={226} text={s.date} size={52} color="#d40000" />
            <YLabel x={s.ax} y={s.ay} />
            <Caption x={s.cx} y={s.cy} letter={s.c} />
          </g>
        ))}
        <text x={478} y={445} fontSize={78} fontFamily="'Liberation Serif', serif" fill="#000" stroke="#000" strokeWidth={0.8} textLength={463} lengthAdjust="spacingAndGlyphs">
          The height of PBL
        </text>
        <line x1={966} y1={449} x2={1065} y2={530} stroke="#000" strokeWidth={5} />
        <polygon points="1081,549 1049,534 1069,512" fill="#000" />
      </svg>
    </div>
  );
}
